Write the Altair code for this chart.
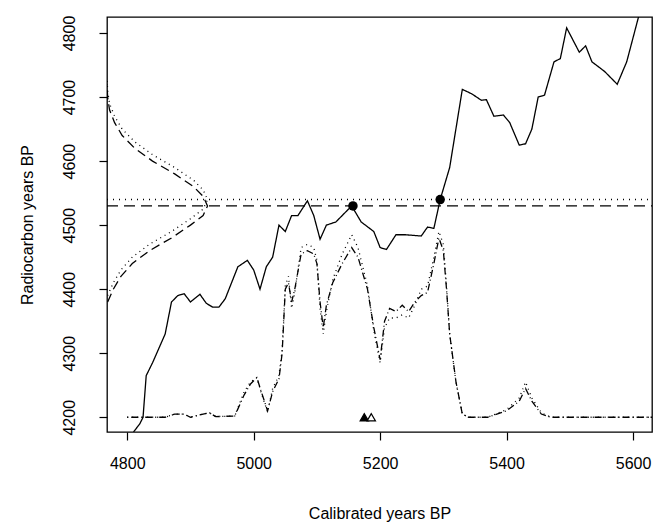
import altair as alt
import pandas as pd

# calibration curve (cal BP, 14C BP)
cal_x = [4810,4820,4825,4830,4840,4860,4870,4880,4890,4900,4915,4925,4935,4945,4955,4975,4990,5000,5010,5020,5030,5040,5050,5060,5070,5085,5095,5105,5115,5130,5155,5170,5190,5200,5210,5225,5240,5265,5275,5285,5295,5310,5330,5345,5360,5368,5380,5395,5405,5420,5430,5440,5450,5460,5475,5485,5495,5515,5525,5535,5555,5575,5590,5610]
cal_y = [4177,4190,4200,4265,4285,4330,4380,4390,4393,4380,4392,4378,4372,4372,4385,4435,4445,4430,4400,4435,4450,4500,4490,4515,4515,4538,4515,4478,4500,4505,4530,4505,4490,4465,4462,4485,4485,4483,4497,4495,4540,4590,4712,4705,4695,4696,4670,4672,4660,4625,4627,4650,4700,4703,4755,4760,4808,4770,4780,4755,4740,4720,4755,4830]

# radiocarbon densities drawn on the y axis (14C BP, cal-axis position)
g1_y = [4380,4400,4420,4440,4460,4480,4500,4515,4530,4545,4560,4580,4600,4620,4640,4660,4680,4700,4720]
g1_x = [4769,4778,4790,4808,4835,4870,4900,4920,4927,4920,4905,4875,4840,4812,4792,4780,4772,4769,4768]
g2_y = [4390,4410,4430,4450,4470,4490,4510,4525,4540,4555,4570,4590,4610,4630,4650,4670,4690,4710,4730]
g2_x = [4769,4778,4790,4808,4835,4870,4900,4920,4927,4920,4905,4875,4840,4812,4792,4780,4772,4769,4768]

# calibrated densities drawn along the x axis
d1_x = [4800,4860,4875,4890,4900,4920,4930,4940,4970,4985,4995,5005,5012,5022,5030,5040,5045,5050,5055,5060,5065,5075,5085,5095,5100,5105,5110,5115,5125,5140,5155,5165,5180,5190,5200,5207,5215,5225,5235,5245,5255,5265,5275,5285,5293,5300,5305,5310,5320,5330,5340,5370,5400,5420,5430,5440,5455,5470,5630]
d1_y = [4200,4200,4205,4205,4200,4205,4207,4201,4202,4235,4252,4262,4240,4210,4240,4260,4300,4400,4410,4380,4400,4455,4460,4455,4440,4380,4340,4375,4410,4440,4465,4450,4400,4340,4290,4350,4370,4365,4375,4365,4380,4390,4395,4440,4480,4460,4400,4330,4255,4205,4200,4200,4210,4225,4245,4225,4205,4200,4200]
d2_y = [4200,4200,4205,4205,4200,4205,4207,4201,4202,4240,4255,4262,4238,4208,4245,4265,4305,4405,4420,4370,4395,4465,4470,4465,4445,4370,4330,4365,4415,4455,4485,4465,4405,4335,4285,4340,4355,4355,4360,4355,4375,4400,4405,4450,4490,4470,4405,4330,4255,4205,4200,4200,4212,4230,4255,4230,4207,4200,4200]

pts_x = [5157, 5295]
pts_y = [4530, 4540]
tri_x = [5175, 5186]
tri_fill = ["black", "white"]

XD = [4768, 5630]
YD = [4177, 4825]
xs = alt.Scale(domain=XD, nice=False, zero=False)
ys = alt.Scale(domain=YD, nice=False, zero=False)
common = dict(grid=False, domain=False, tickColor="black", tickSize=8, tickWidth=1.2,
              labelFontSize=16, titleFontSize=16, labelColor="black", titleColor="black",
              titleFontWeight="normal", labelFont="Liberation Sans", titleFont="Liberation Sans",
              format="d")
xax = alt.Axis(values=[4800,5000,5200,5400,5600], title="Calibrated years BP",
               labelPadding=15, titlePadding=34, **common)
yax = alt.Axis(values=[4200,4300,4400,4500,4600,4700,4800], title="Radiocarbon years BP",
               labelAngle=-90, labelAlign="center", labelBaseline="bottom", labelPadding=22,
               titlePadding=26, **common)
X = lambda: alt.X("x:Q", scale=xs, axis=xax)
Y = lambda: alt.Y("y:Q", scale=ys, axis=yax)

def line(xv, yv, dash):
    df = pd.DataFrame({"x": xv, "y": yv, "k": range(len(xv))})
    return alt.Chart(df).mark_line(color="black", strokeWidth=1.3, strokeDash=dash, clip=True).encode(
        x=X(), y=Y(), order="k:Q")

cal = line(cal_x, cal_y, [1, 0])
g1 = line(g1_x, g1_y, [9, 5])
g2 = line(g2_x, g2_y, [1, 4])
d1 = line(d1_x, d1_y, [1, 3, 7, 3])
d2 = line(d1_x, d2_y, [1, 4])
h1 = line(XD, [4530, 4530], [11, 6])
h2 = line(XD, [4540, 4540], [1, 5])

pts = alt.Chart(pd.DataFrame({"x": pts_x, "y": pts_y})).mark_point(
    filled=True, color="black", size=90, opacity=1).encode(x=X(), y=Y())
tri = alt.Chart(pd.DataFrame({"x": tri_x, "y": [4200, 4200], "f": tri_fill})).mark_point(
    shape="triangle-up", stroke="black", strokeWidth=1.2, size=70, opacity=1).encode(
    x=X(), y=Y(), fill=alt.Fill("f:N", scale=None))

chart = alt.layer(cal, h1, h2, g1, g2, d1, d2, pts, tri).properties(
    width=545, height=415, autosize=alt.AutoSizeParams(type="none"), background="white",
    padding={"left": 99, "top": 9, "right": 5, "bottom": 90}
).configure_view(stroke="black", strokeWidth=1.3)

chart.save("out.html", embed_options={"renderer": "svg", "actions": False})
